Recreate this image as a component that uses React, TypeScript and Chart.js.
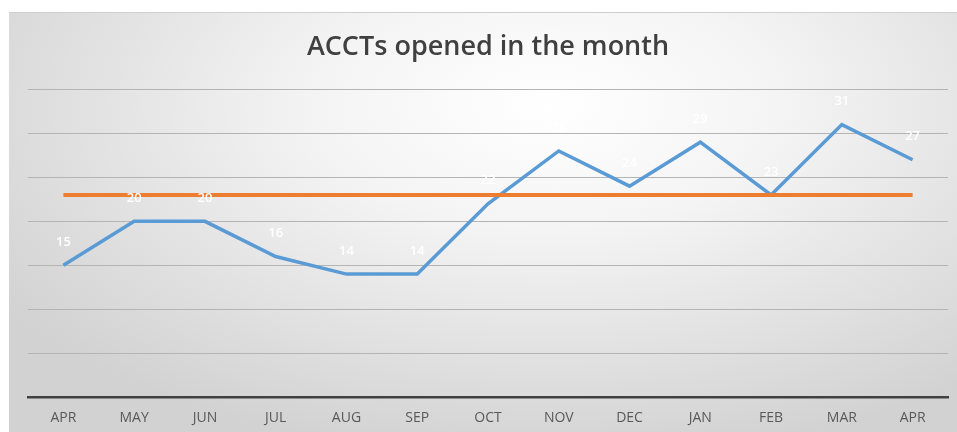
import React, { useEffect, useRef } from "react";
import { Chart, registerables } from "chart.js";

Chart.register(...registerables);

const months = ["APR", "MAY", "JUN", "JUL", "AUG", "SEP", "OCT", "NOV", "DEC", "JAN", "FEB", "MAR", "APR"];
const accountsOpened = [15, 20, 20, 16, 14, 14, 22, 28, 24, 29, 23, 31, 27];
const targetValue = [23, 23, 23, 23, 23, 23, 23, 23, 23, 23, 23, 23, 23];
const yMin = 0;
const yMax = 35;
const yStep = 5;

const valueLabelPlugin = {
  id: "valueLabels",
  afterDatasetsDraw(chart: any) {
    const meta = chart.getDatasetMeta(1);
    const ctx = chart.ctx;
    ctx.save();
    ctx.font = "600 13px 'Open Sans'";
    ctx.fillStyle = "#ffffff";
    ctx.textAlign = "center";
    ctx.textBaseline = "middle";
    meta.data.forEach((pt: any, i: number) => {
      ctx.fillText(String(accountsOpened[i]), pt.x, pt.y - 23);
    });
    ctx.restore();
  },
};

export default function App() {
  const ref = useRef<HTMLCanvasElement | null>(null);

  useEffect(() => {
    if (!ref.current) return;
    const chart = new Chart(ref.current, {
      type: "line",
      data: {
        labels: months,
        datasets: [
          {
            label: "Target",
            data: targetValue,
            borderColor: "#ED7D31",
            borderWidth: 4,
            pointRadius: 0,
            tension: 0,
          },
          {
            label: "ACCTs opened",
            data: accountsOpened,
            borderColor: "#5B9BD5",
            borderWidth: 3.5,
            pointRadius: 0,
            tension: 0,
          },
        ],
      },
      options: {
        responsive: false,
        animation: false,
        layout: { padding: { left: 19, right: 9, top: 0, bottom: -6 } },
        plugins: {
          legend: { display: false },
          tooltip: { enabled: false },
          title: {
            display: true,
            text: "ACCTs opened in the month",
            color: "#404040",
            font: { family: "'Open Sans'", size: 27, weight: "600", lineHeight: 1.2 },
            padding: { top: 18, bottom: 26 },
          },
        },
        scales: {
          x: {
            offset: true,
            grid: { color: "rgba(0,0,0,0)", drawTicks: false },
            border: { display: true, color: "#404040", width: 2.5 },
            ticks: {
              color: "#595959",
              font: { family: "'Open Sans'", size: 14, lineHeight: 1.2 },
              padding: 12,
              maxRotation: 0,
              autoSkip: false,
            },
          },
          y: {
            min: yMin,
            max: yMax,
            ticks: { display: false, stepSize: yStep },
            grid: { color: "#b4b4b4", lineWidth: 1, drawTicks: false },
            border: { display: false },
          },
        },
      },
      plugins: [valueLabelPlugin],
    });
    return () => chart.destroy();
  }, []);

  return (
    <div
      style={{
        position: "absolute",
        left: 9,
        top: 12,
        width: 948,
        height: 420,
        borderTop: "1px solid #cfcfcf",
        boxSizing: "border-box",
        background:
          "radial-gradient(ellipse 70% 85% at 57% 22%, #ffffff 0%, #f4f4f4 35%, #e4e4e4 65%, #d2d2d2 100%)",
      }}
    >
      <canvas ref={ref} width={948} height={419} style={{ display: "block" }} />
    </div>
  );
}
